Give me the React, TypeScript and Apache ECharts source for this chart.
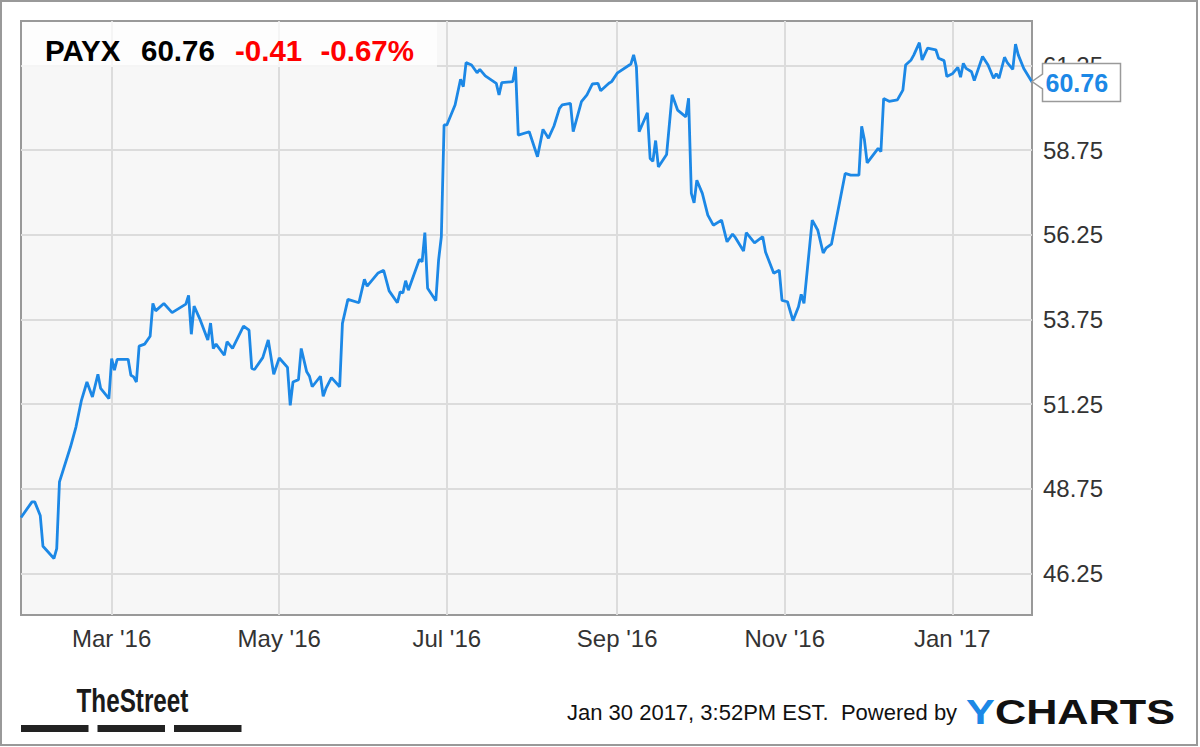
import React, { useEffect, useRef } from 'react';
import * as echarts from 'echarts';

const ticker = 'PAYX';
const lastPriceText = '60.76';
const changeText = '-0.41';
const changePctText = '-0.67%';
const timestampText = 'Jan 30 2017, 3:52PM EST.  Powered by';

const xRange = ['2016-01-28', '2017-01-30'];
const yRange = [45.02, 62.56];
const yTickValues = [46.25, 48.75, 51.25, 53.75, 56.25, 58.75, 61.25];
const xTickDates = ['2016-03-01', '2016-05-01', '2016-07-01', '2016-09-01', '2016-11-01', '2017-01-01'];
const xTickLabels = ["Mar '16", "May '16", "Jul '16", "Sep '16", "Nov '16", "Jan '17"];

const dates = [
  '2016-01-28', '2016-02-01', '2016-02-02', '2016-02-04', '2016-02-05', '2016-02-09', '2016-02-10', '2016-02-11',
  '2016-02-15', '2016-02-17', '2016-02-19', '2016-02-21', '2016-02-23', '2016-02-25', '2016-02-26', '2016-02-29',
  '2016-03-01', '2016-03-02', '2016-03-03', '2016-03-07', '2016-03-08', '2016-03-09', '2016-03-10', '2016-03-11',
  '2016-03-13', '2016-03-15', '2016-03-16', '2016-03-17', '2016-03-20', '2016-03-23', '2016-03-28', '2016-03-29',
  '2016-03-30', '2016-03-31', '2016-04-02', '2016-04-05', '2016-04-06', '2016-04-07', '2016-04-08', '2016-04-11',
  '2016-04-12', '2016-04-14', '2016-04-18', '2016-04-20', '2016-04-21', '2016-04-22', '2016-04-25', '2016-04-27',
  '2016-04-29', '2016-05-01', '2016-05-04', '2016-05-05', '2016-05-06', '2016-05-08', '2016-05-09', '2016-05-11',
  '2016-05-12', '2016-05-13', '2016-05-16', '2016-05-17', '2016-05-18', '2016-05-20', '2016-05-23', '2016-05-24',
  '2016-05-26', '2016-05-30', '2016-06-01', '2016-06-02', '2016-06-06', '2016-06-08', '2016-06-10', '2016-06-13',
  '2016-06-14', '2016-06-15', '2016-06-16', '2016-06-17', '2016-06-21', '2016-06-22', '2016-06-23', '2016-06-24',
  '2016-06-27', '2016-06-28', '2016-06-29', '2016-06-30', '2016-07-01', '2016-07-04', '2016-07-06', '2016-07-07',
  '2016-07-08', '2016-07-10', '2016-07-12', '2016-07-13', '2016-07-15', '2016-07-19', '2016-07-20', '2016-07-21',
  '2016-07-25', '2016-07-26', '2016-07-27', '2016-07-31', '2016-08-03', '2016-08-05', '2016-08-07', '2016-08-09',
  '2016-08-11', '2016-08-12', '2016-08-15', '2016-08-16', '2016-08-19', '2016-08-21', '2016-08-23', '2016-08-25',
  '2016-08-26', '2016-08-29', '2016-08-30', '2016-09-01', '2016-09-06', '2016-09-07', '2016-09-08', '2016-09-09',
  '2016-09-12', '2016-09-13', '2016-09-14', '2016-09-15', '2016-09-16', '2016-09-19', '2016-09-21', '2016-09-23',
  '2016-09-26', '2016-09-27', '2016-09-28', '2016-09-29', '2016-09-30', '2016-10-02', '2016-10-04', '2016-10-06',
  '2016-10-09', '2016-10-11', '2016-10-13', '2016-10-14', '2016-10-17', '2016-10-18', '2016-10-21', '2016-10-24',
  '2016-10-25', '2016-10-28', '2016-10-30', '2016-10-31', '2016-11-02', '2016-11-04', '2016-11-06', '2016-11-07',
  '2016-11-08', '2016-11-11', '2016-11-13', '2016-11-15', '2016-11-16', '2016-11-18', '2016-11-23', '2016-11-25',
  '2016-11-28', '2016-11-29', '2016-11-30', '2016-12-01', '2016-12-05', '2016-12-06', '2016-12-07', '2016-12-09',
  '2016-12-12', '2016-12-14', '2016-12-15', '2016-12-17', '2016-12-18', '2016-12-20', '2016-12-21', '2016-12-23',
  '2016-12-26', '2016-12-27', '2016-12-29', '2016-12-30', '2017-01-01', '2017-01-03', '2017-01-04', '2017-01-05',
  '2017-01-06', '2017-01-08', '2017-01-09', '2017-01-12', '2017-01-14', '2017-01-16', '2017-01-17', '2017-01-18',
  '2017-01-20', '2017-01-21', '2017-01-23', '2017-01-24', '2017-01-25', '2017-01-27', '2017-01-30',
];

const closes = [
  47.90, 48.36, 48.36, 47.96, 47.05, 46.69, 46.98, 48.95,
  49.98, 50.57, 51.36, 51.90, 51.46, 52.13, 51.71, 51.41,
  52.59, 52.25, 52.57, 52.57, 52.10, 52.05, 51.90, 52.96,
  53.02, 53.25, 54.22, 54.00, 54.22, 53.95, 54.20, 54.46,
  53.31, 54.14, 53.78, 53.14, 53.64, 52.89, 53.02, 52.69,
  53.09, 52.89, 53.55, 53.43, 52.30, 52.27, 52.62, 53.14,
  52.13, 52.61, 52.33, 51.21, 51.90, 51.97, 52.89, 52.20,
  52.07, 51.76, 52.07, 51.48, 51.71, 52.03, 51.76, 53.63,
  54.34, 54.24, 54.93, 54.73, 55.12, 55.20, 54.59, 54.24,
  54.56, 54.53, 54.89, 54.61, 55.52, 55.45, 56.31, 54.67,
  54.30, 55.50, 56.19, 59.49, 59.49, 60.08, 60.84, 60.62,
  61.33, 61.26, 61.03, 61.13, 60.94, 60.72, 60.38, 60.74,
  60.77, 61.21, 59.19, 59.29, 58.55, 59.36, 59.10, 59.46,
  59.98, 60.08, 60.13, 59.29, 60.18, 60.38, 60.70, 60.72,
  60.50, 60.72, 60.77, 61.02, 61.29, 61.56, 61.21, 59.29,
  59.85, 58.50, 58.42, 59.03, 58.25, 58.62, 60.38, 59.93,
  59.73, 60.28, 57.47, 57.19, 57.86, 57.47, 56.83, 56.53,
  56.68, 56.04, 56.27, 56.17, 55.77, 56.31, 56.01, 56.19,
  55.74, 55.11, 55.20, 54.31, 54.27, 53.71, 54.12, 54.49,
  54.22, 56.68, 56.39, 55.71, 55.85, 55.97, 58.06, 58.01,
  58.01, 59.45, 59.05, 58.37, 58.80, 58.70, 60.27, 60.19,
  60.23, 60.52, 61.26, 61.41, 61.56, 61.92, 61.41, 61.76,
  61.71, 61.46, 61.39, 60.92, 61.00, 61.19, 60.90, 61.31,
  61.16, 61.06, 60.80, 61.51, 61.26, 60.87, 61.00, 60.87,
  61.49, 61.33, 61.13, 61.88, 61.56, 61.16, 60.76,
];

const ts = (s: string) => {
  const [y, m, d] = s.split('-').map(Number);
  return Date.UTC(y, m - 1, d);
};

const FONT = "'Liberation Sans', Arial, Helvetica, sans-serif";
const BLUE = '#1c88e6';
const RED = '#ff0000';

export default function App() {
  const ref = useRef<HTMLDivElement>(null);

  useEffect(() => {
    if (!ref.current) return;
    const chart = echarts.init(ref.current, undefined, { renderer: 'svg' });
    const xTickTs = xTickDates.map(ts);
    const seriesData = dates.map((d, i) => [ts(d), closes[i]]);

    const headerText = (text: string, x: number, color: string) => ({
      type: 'text',
      x,
      y: 50.5,
      z: 60,
      silent: true,
      style: {
        text,
        fill: color,
        fontSize: 29.5,
        fontWeight: 'bold',
        fontFamily: FONT,
        align: 'left',
        verticalAlign: 'middle',
      },
    });

    const option: any = {
      animation: false,
      backgroundColor: '#ffffff',
      grid: {
        left: 21,
        top: 21,
        width: 1011,
        height: 594,
        show: true,
        backgroundColor: '#f7f7f7',
        borderColor: '#999999',
        borderWidth: 2,
        containLabel: false,
      },
      xAxis: {
        type: 'value',
        min: ts(xRange[0]),
        max: ts(xRange[1]),
        axisLine: { show: false },
        axisTick: { show: false, customValues: xTickTs },
        axisLabel: {
          customValues: xTickTs,
          formatter: (v: number) => {
            const idx = xTickTs.findIndex((t) => Math.abs(t - v) < 43200000);
            return idx >= 0 ? xTickLabels[idx] : '';
          },
          fontSize: 24,
          color: '#333333',
          fontFamily: FONT,
          margin: 11,
          hideOverlap: false,
        },
        splitLine: { show: true, lineStyle: { color: '#dcdcdc', width: 2 } },
      },
      yAxis: {
        type: 'value',
        position: 'right',
        min: yRange[0],
        max: yRange[1],
        axisLine: { show: false },
        axisTick: { show: false, customValues: yTickValues },
        axisLabel: {
          customValues: yTickValues,
          formatter: (v: number) => v.toFixed(2),
          fontSize: 24,
          color: '#333333',
          fontFamily: FONT,
          margin: 11,
        },
        splitLine: { show: true, lineStyle: { color: '#dcdcdc', width: 2 } },
      },
      series: [
        {
          type: 'line',
          data: seriesData,
          showSymbol: false,
          symbol: 'none',
          lineStyle: { color: BLUE, width: 2.8 },
          z: 3,
        },
      ],
      graphic: [
        {
          type: 'rect',
          silent: true,
          z: 0,
          shape: { x: 1, y: 1, width: 1196, height: 744 },
          style: { fill: 'none', stroke: '#999999', lineWidth: 2 },
        },
        {
          type: 'rect',
          silent: true,
          z: 50,
          shape: { x: 22, y: 22, width: 415, height: 45 },
          style: { fill: 'rgba(255,255,255,0.72)' },
        },
        headerText(ticker, 45, '#000000'),
        headerText(lastPriceText, 141, '#000000'),
        headerText(changeText, 235, RED),
        headerText(changePctText, 320.5, RED),
        {
          type: 'polygon',
          silent: true,
          z: 60,
          shape: {
            points: [
              [1032, 81.5],
              [1042.5, 74],
              [1042.5, 63.5],
              [1120.5, 63.5],
              [1120.5, 101.5],
              [1042.5, 101.5],
              [1042.5, 89],
            ],
          },
          style: { fill: '#ffffff', stroke: '#9a9a9a', lineWidth: 1.5 },
        },
        {
          type: 'text',
          silent: true,
          z: 61,
          x: 1045.5,
          y: 83,
          style: {
            text: closes[closes.length - 1].toFixed(2),
            fill: BLUE,
            fontSize: 25,
            fontWeight: 'bold',
            fontFamily: FONT,
            align: 'left',
            verticalAlign: 'middle',
          },
        },
        {
          type: 'text',
          silent: true,
          z: 10,
          x: 76.5,
          y: 700,
          scaleX: 0.714,
          style: {
            text: 'TheStreet',
            fill: '#1a1a1a',
            fontSize: 34,
            fontWeight: 'bold',
            fontFamily: FONT,
            align: 'left',
            verticalAlign: 'middle',
          },
        },
        { type: 'rect', silent: true, z: 10, shape: { x: 21, y: 725, width: 67.5, height: 7 }, style: { fill: '#222222' } },
        { type: 'rect', silent: true, z: 10, shape: { x: 97.5, y: 725, width: 67.5, height: 7 }, style: { fill: '#222222' } },
        { type: 'rect', silent: true, z: 10, shape: { x: 174, y: 725, width: 67.5, height: 7 }, style: { fill: '#222222' } },
        {
          type: 'text',
          silent: true,
          z: 10,
          x: 567,
          y: 712.5,
          style: {
            text: timestampText,
            fill: '#111111',
            fontSize: 22,
            fontFamily: FONT,
            align: 'left',
            verticalAlign: 'middle',
          },
        },
        {
          type: 'text',
          silent: true,
          z: 10,
          x: 966,
          y: 711.5,
          scaleX: 1.2,
          style: {
            text: 'Y',
            fill: BLUE,
            fontSize: 36,
            fontWeight: 'bold',
            fontFamily: FONT,
            align: 'left',
            verticalAlign: 'middle',
          },
        },
        {
          type: 'text',
          silent: true,
          z: 10,
          x: 995,
          y: 711.5,
          scaleX: 1.2,
          style: {
            text: 'CHARTS',
            fill: '#111111',
            fontSize: 36,
            fontWeight: 'bold',
            fontFamily: FONT,
            align: 'left',
            verticalAlign: 'middle',
          },
        },
      ],
    };

    chart.setOption(option);
    return () => chart.dispose();
  }, []);

  return (
    <div
      ref={ref}
      style={{ position: 'fixed', left: 0, top: 0, width: 1200, height: 747, background: '#ffffff' }}
    />
  );
}
